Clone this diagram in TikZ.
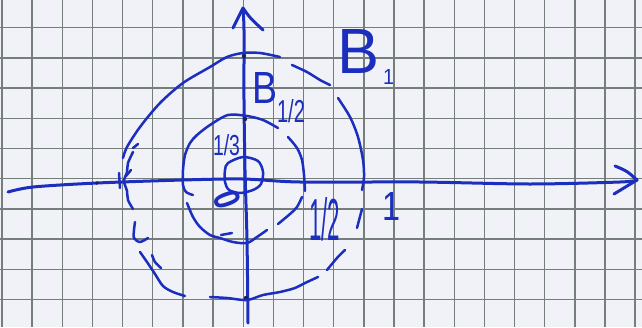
\documentclass[tikz,border=0pt]{standalone}
\usepackage{fontspec}
\setmainfont{Liberation Sans}
\definecolor{paper}{RGB}{240,242,248}
\definecolor{gridc}{RGB}{118,126,124}
\definecolor{pen}{RGB}{28,46,190}
\definecolor{dotc}{RGB}{30,30,90}
\begin{document}
\begin{tikzpicture}[x=0.5pt,y=-0.5pt,
  penline/.style={pen, line width=1.25pt, line cap=round, line join=round},
  axisline/.style={pen, line width=1.5pt, line cap=round, line join=round},
  gridline/.style={gridc, line width=0.7pt},
  lbl/.style={pen, inner sep=0pt, outer sep=0pt},
  penDot/.style={dotc}]
\useasboundingbox (0,0) rectangle (642,327);
\fill[paper] (0,0) rectangle (642,327);
% grid paper
\foreach \k in {0,...,21} \draw[gridline] ({2+30.15*\k},0) -- ({2+30.15*\k},327);
\foreach \j in {1,...,10} \draw[gridline] (0,{-2.5+30.2*\j}) -- (642,{-2.5+30.2*\j});
% x axis
\draw[axisline] plot[smooth] coordinates {(8,192) (33,187) (97,183) (183,180) (243,179) (300,182) (420,182) (530,184) (620,182) (637,180)};
\draw[axisline] (615,166) .. controls (627,171) .. (637,180) -- (614,194);
% y axis
\draw[axisline] plot[smooth] coordinates {(248,323) (247,240) (245,170) (244,100) (244,30) (243,10)};
\draw[axisline] (233,28) .. controls (238,18) .. (243,8) .. controls (250,18) .. (263,30);
% small marks
\draw[penline] (119,173) -- (120,188);
\fill[penDot] (97,183) circle (1.8);
\fill[penDot] (244,56) circle (2.2);
\fill[penDot] (245,119) circle (2.2);
\fill[penDot] (246,298) circle (2.2);
% outer circle B_1 (dashed by hand)
\draw[penline] plot[smooth] coordinates {(280,57) (260,53) (243,53) (227,57) (210,67) (183,83) (160,103) (140,127) (127,147) (123,158)};
\draw[penline] (133,148) -- (138,144);
\draw[penline] plot[smooth] coordinates {(133,152) (128,163) (127,172) (124,181) (127,191) (128,200) (133,209)};
\draw[penline] (126,176) -- (131,170);
\draw[penline] plot[smooth] coordinates {(135,222) (134,230) (134,238) (140,242) (148,238)};
\draw[penline] plot[smooth] coordinates {(152,255) (155,262) (161,268)};
\draw[penline] plot[smooth] coordinates {(140,252) (147,262) (155,274) (163,286) (173,292) (185,296)};
\draw[penline] plot[smooth] coordinates {(210,297) (227,298) (247,300) (263,295) (280,292) (295,288) (305,283) (318,277)};
\draw[penline] plot[smooth] coordinates {(327,270) (337,258) (345,250)};
\draw[penline] (357,228) -- (362,209);
\draw[penline] plot[smooth] coordinates {(338,98) (350,117) (358,137) (363,160) (364,177) (362,190)};
\draw[penline] plot[smooth] coordinates {(292,65) (307,72) (320,80) (330,85)};
% middle circle B_{1/2}
\draw[penline] plot[smooth] coordinates {(193,195) (186,192) (183,185) (183,170) (185,155) (190,143) (197,135) (210,125) (228,115) (247,116) (263,120) (278,128)};
\draw[penline] plot[smooth] coordinates {(288,137) (297,148) (302,160) (304,175) (305,191)};
\draw[penline] plot[smooth] coordinates {(302,197) (297,207) (290,214) (278,224)};
\draw[penline] plot[smooth] coordinates {(267,230) (257,237) (247,243) (233,242) (220,238) (210,235) (200,227) (193,217) (187,203)};
\draw[penline] (221,235) -- (232,233);
% inner circle
\draw[penline] plot[smooth cycle] coordinates {(228,163) (243,157) (258,161) (263,172) (261,184) (253,190) (240,193) (229,190) (225,182) (225,170)};
% labels
\node[lbl, anchor=north west] (labB1) at (337,29)
  {\resizebox{21pt}{22pt}{B}\hspace{2pt}\raisebox{-5.5pt}{\resizebox{5.5pt}{7.5pt}{1}}};
\node[lbl, anchor=north west] (labBhalf) at (252,72)
  {\resizebox{12.5pt}{15.5pt}{B}\raisebox{-9.5pt}{\resizebox{14pt}{11.5pt}{1/2}}};
\node[lbl] (labThird) at (226.5,145.5) {\resizebox{13.5pt}{10.5pt}{1/3}};
\node[lbl, rotate=-70] (labZero) at (227,200) {\resizebox{8pt}{13pt}{\bfseries 0}};
\node[lbl] (labHalf) at (324.5,219.5) {\resizebox{15.5pt}{21.5pt}{1/2}};
\node[lbl] (labOne) at (391,206) {\resizebox{9pt}{14pt}{1}};
\end{tikzpicture}
\end{document}
